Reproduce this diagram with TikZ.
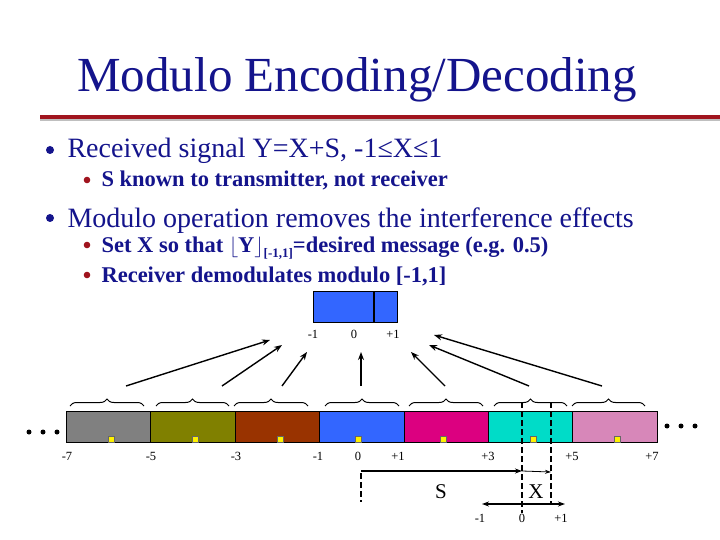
\documentclass[tikz,border=0pt]{standalone}
\usepackage{fontspec}
\setmainfont{Liberation Serif}
\usetikzlibrary{decorations.pathreplacing,arrows.meta}
\definecolor{tblue}{RGB}{20,20,140}
\definecolor{bred}{RGB}{160,20,30}
\begin{document}
\begin{tikzpicture}[x=1pt,y=-1pt,
  tick/.style={font=\fontsize{12.5}{12.5}\selectfont,anchor=base},
  seg/.style={draw=black,line width=0.6pt},
  ysq/.style={fill=yellow,draw=black!60,line width=0.2pt},
  arr/.style={-{Stealth[length=8pt,width=6pt]},line width=1.4pt},
  brc/.style={decorate,decoration={brace,amplitude=7pt},line width=1pt},
  dsh/.style={line width=1.4pt,dash pattern=on 6pt off 3pt}]
\useasboundingbox (0,0) rectangle (720,540);
\fill[white] (0,0) rectangle (720,540);
% title
\node[text=tblue,font=\fontsize{49}{49}\selectfont,anchor=base] (title) at (357,92) {Modulo Encoding/Decoding};
\fill[bred] (40,115) rectangle (720,119);
\fill[black!25] (40,119) rectangle (720,121);
% bullets
\fill[tblue] (50,150) circle (4);
\node[text=tblue,font=\fontsize{28}{28}\selectfont,anchor=base west] (b1) at (64,158) {Received signal Y=X+S, -1≤X≤1};
\fill[bred] (87,180) circle (3.3);
\node[text=tblue,font=\bfseries\fontsize{22.5}{22.5}\selectfont,anchor=base west] (b11) at (98,187) {S known to transmitter, not receiver};
\fill[tblue] (50,218) circle (4);
\node[text=tblue,font=\fontsize{28}{28}\selectfont,anchor=base west] (b2) at (64,227) {Modulo operation removes the interference effects};
\fill[bred] (87,245) circle (3.3);
\node[text=tblue,font=\bfseries\fontsize{22.5}{22.5}\selectfont,anchor=base west] (b21) at (98,252) {Set X so that $\lfloor$Y$\rfloor$\raisebox{-0.5ex}{\fontsize{13}{13}\selectfont[-1,1]}=desired message (e.g. 0.5)};
\fill[bred] (87,275) circle (3.3);
\node[text=tblue,font=\bfseries\fontsize{22.5}{22.5}\selectfont,anchor=base west] (b22) at (98,282) {Receiver demodulates modulo [-1,1]};
% small box
\node[seg,fill={rgb,255:red,51;green,102;blue,255},minimum width=84pt,minimum height=31pt,inner sep=0pt,anchor=north west] (box) at (313,291) {};
\draw[line width=2.2pt] (374,291) -- (374,322);
\node[tick] (bm1) at (313,338) {-1};
\node[tick] (b0) at (354,338) {0};
\node[tick] (bp1) at (393,338) {+1};
% bar
\foreach \i/\c in {0/{rgb,255:red,128;green,128;blue,128},1/{rgb,255:red,128;green,128;blue,0},2/{rgb,255:red,153;green,51;blue,0},3/{rgb,255:red,51;green,102;blue,255},4/{rgb,255:red,220;green,0;blue,128},5/{rgb,255:red,0;green,220;blue,200},6/{rgb,255:red,215;green,135;blue,185}}{
  \node[seg,fill=\c,minimum width=84.4pt,minimum height=31pt,inner sep=0pt,anchor=north west] (s\i) at ({66+84.4*\i},411) {};
}
\foreach \x in {111,195,280,358,443,533,617}{
  \draw[ysq] (\x-3,436) rectangle (\x+3,442);
}
\foreach \x in {29,43,57}{\fill (\x,432) circle (2.5);}
\foreach \x in {667,681,695}{\fill (\x,426) circle (2.5);}
\foreach \x/\t in {67/-7,151/-5,236/-3,318/-1,358/0,398/+1,488/+3,572/+5,652/+7}{
  \node[tick] at (\x,460) {\t};
}
% braces
\foreach \a/\b in {70/144,156/229,234/308,325/399,409/483,494/567,572/645}{
  \draw[brc] (\a,406) -- (\b,406);
}
% arrows
\coordinate (t1) at (126,386); \coordinate (h1) at (270,340);
\coordinate (t2) at (222,386); \coordinate (h2) at (282,345);
\coordinate (t3) at (282,386); \coordinate (h3) at (307,352);
\coordinate (t4) at (361,386); \coordinate (h4) at (361,352);
\coordinate (t5) at (445,386); \coordinate (h5) at (411,352);
\coordinate (t6) at (529,386); \coordinate (h6) at (429,345);
\coordinate (t7) at (602,386); \coordinate (h7) at (434,335);
\foreach \i in {1,...,7}{\draw[arr] (t\i) -- (h\i);}
% dashed lines & S/X
\draw[dsh] (522,402) -- (522,513);
\draw[dsh] (551,402) -- (551,503);
\draw[dsh] (361,473) -- (361,502);
\coordinate (s0) at (361,471); \coordinate (s1) at (522,471); \coordinate (x1) at (551,472);
\draw[arr,-{Stealth[length=7pt,width=5pt]}] (s0) -- (s1);
\draw[-{Stealth[length=6pt,width=4pt]},line width=0.8pt] (s1) -- (x1);
\node[font=\fontsize{21}{21}\selectfont,anchor=base] (S) at (441,498) {S};
\node[font=\fontsize{21}{21}\selectfont,anchor=base] (X) at (536,498) {X};
\coordinate (d0) at (482,504); \coordinate (d1) at (565,504);
\draw[{Stealth[length=7pt,width=5pt]}-{Stealth[length=7pt,width=5pt]},line width=1.4pt] (d0) -- (d1);
\node[tick] at (480,522) {-1};
\node[tick] at (522,522) {0};
\node[tick] at (561,522) {+1};
\end{tikzpicture}
\end{document}
